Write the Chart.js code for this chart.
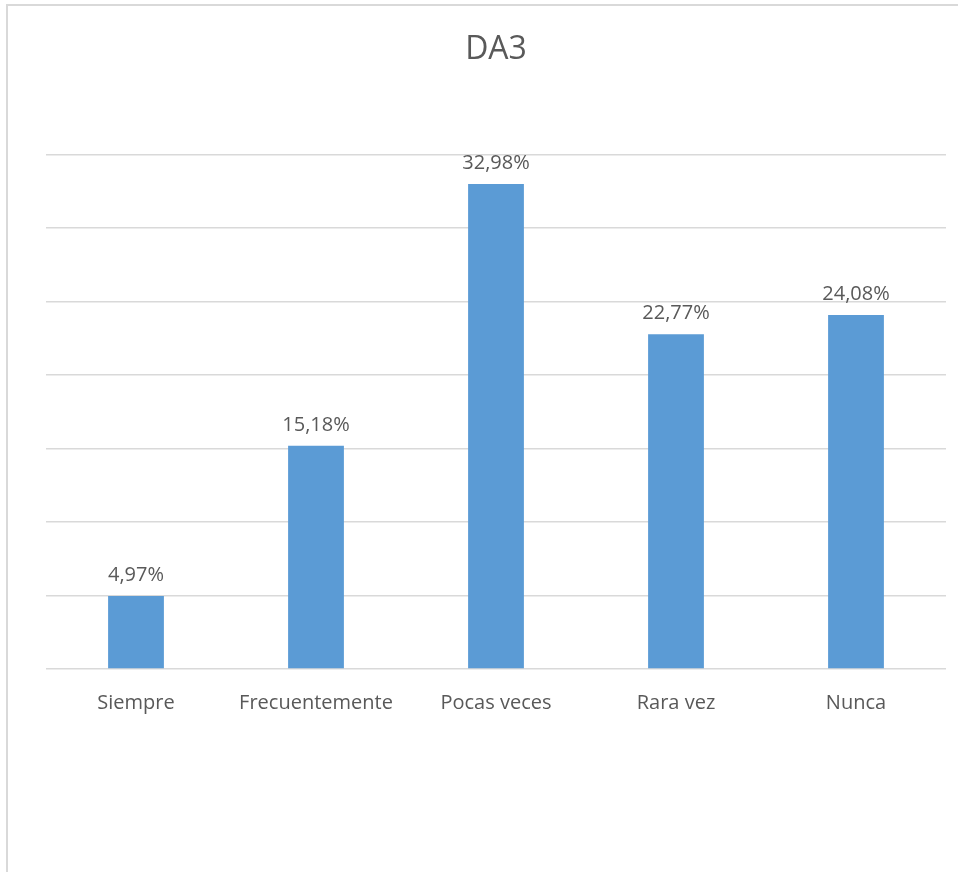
<!DOCTYPE html>
<html lang="es">
<head>
    <meta charset="UTF-8">
    <title>DA3</title>
    <style>
        body {
            margin: 0;
            padding: 0;
            background: #ffffff;
            overflow: hidden;
        }
        .frame {
            position: absolute;
            left: 6px;
            top: 4px;
            width: 1000px;
            height: 1000px;
            border-left: 2px solid #d9d9d9;
            border-top: 2px solid #d9d9d9;
        }
        .wrap {
            position: absolute;
            left: 0;
            top: 0;
            width: 958px;
            height: 872px;
        }
    </style>
    <script src="https://cdn.jsdelivr.net/npm/chart.js"></script>
</head>
<body>
    <div class="frame"></div>
    <div class="wrap">
        <canvas id="chartCanvas"></canvas>
    </div>
    <script>
        const categories = ['Siempre', 'Frecuentemente', 'Pocas veces', 'Rara vez', 'Nunca'];
        const values = [4.97, 15.18, 32.98, 22.77, 24.08];
        const chartTitle = 'DA3';

        const textColor = '#595959';
        const fontFamily = '"Open Sans", "Noto Sans", sans-serif';

        // labels above each bar, e.g. "32,98%"
        const barLabels = {
            id: 'barLabels',
            afterDatasetsDraw(chart) {
                const ctx = chart.ctx;
                const meta = chart.getDatasetMeta(0);
                ctx.save();
                ctx.font = '20px ' + fontFamily;
                ctx.fillStyle = textColor;
                ctx.textAlign = 'center';
                ctx.textBaseline = 'alphabetic';
                meta.data.forEach((bar, i) => {
                    const txt = values[i].toFixed(2).replace('.', ',') + '%';
                    ctx.fillText(txt, bar.x, bar.y - 15);
                });
                ctx.restore();
            }
        };

        new Chart(document.getElementById('chartCanvas'), {
            type: 'bar',
            data: {
                labels: categories,
                datasets: [{
                    data: values,
                    backgroundColor: '#5b9bd5',
                    borderWidth: 0,
                    categoryPercentage: 1,
                    barPercentage: 0.31
                }]
            },
            options: {
                responsive: true,
                maintainAspectRatio: false,
                animation: false,
                layout: {
                    padding: { left: 46, right: 12, top: 0, bottom: 135 }
                },
                plugins: {
                    legend: { display: false },
                    tooltip: { enabled: false },
                    title: {
                        display: true,
                        text: chartTitle,
                        color: textColor,
                        font: { family: fontFamily, size: 32, weight: 'normal' },
                        padding: { top: 31, bottom: 85 }
                    }
                },
                scales: {
                    x: {
                        grid: { display: false, drawTicks: false },
                        border: { display: false },
                        ticks: {
                            color: textColor,
                            font: { family: fontFamily, size: 20 },
                            padding: 22
                        }
                    },
                    y: {
                        min: 0,
                        max: 35,
                        ticks: { display: false, stepSize: 5 },
                        grid: { color: '#d9d9d9', lineWidth: 1.5, drawTicks: false },
                        border: { display: false }
                    }
                }
            },
            plugins: [barLabels]
        });
    </script>
</body>
</html>
